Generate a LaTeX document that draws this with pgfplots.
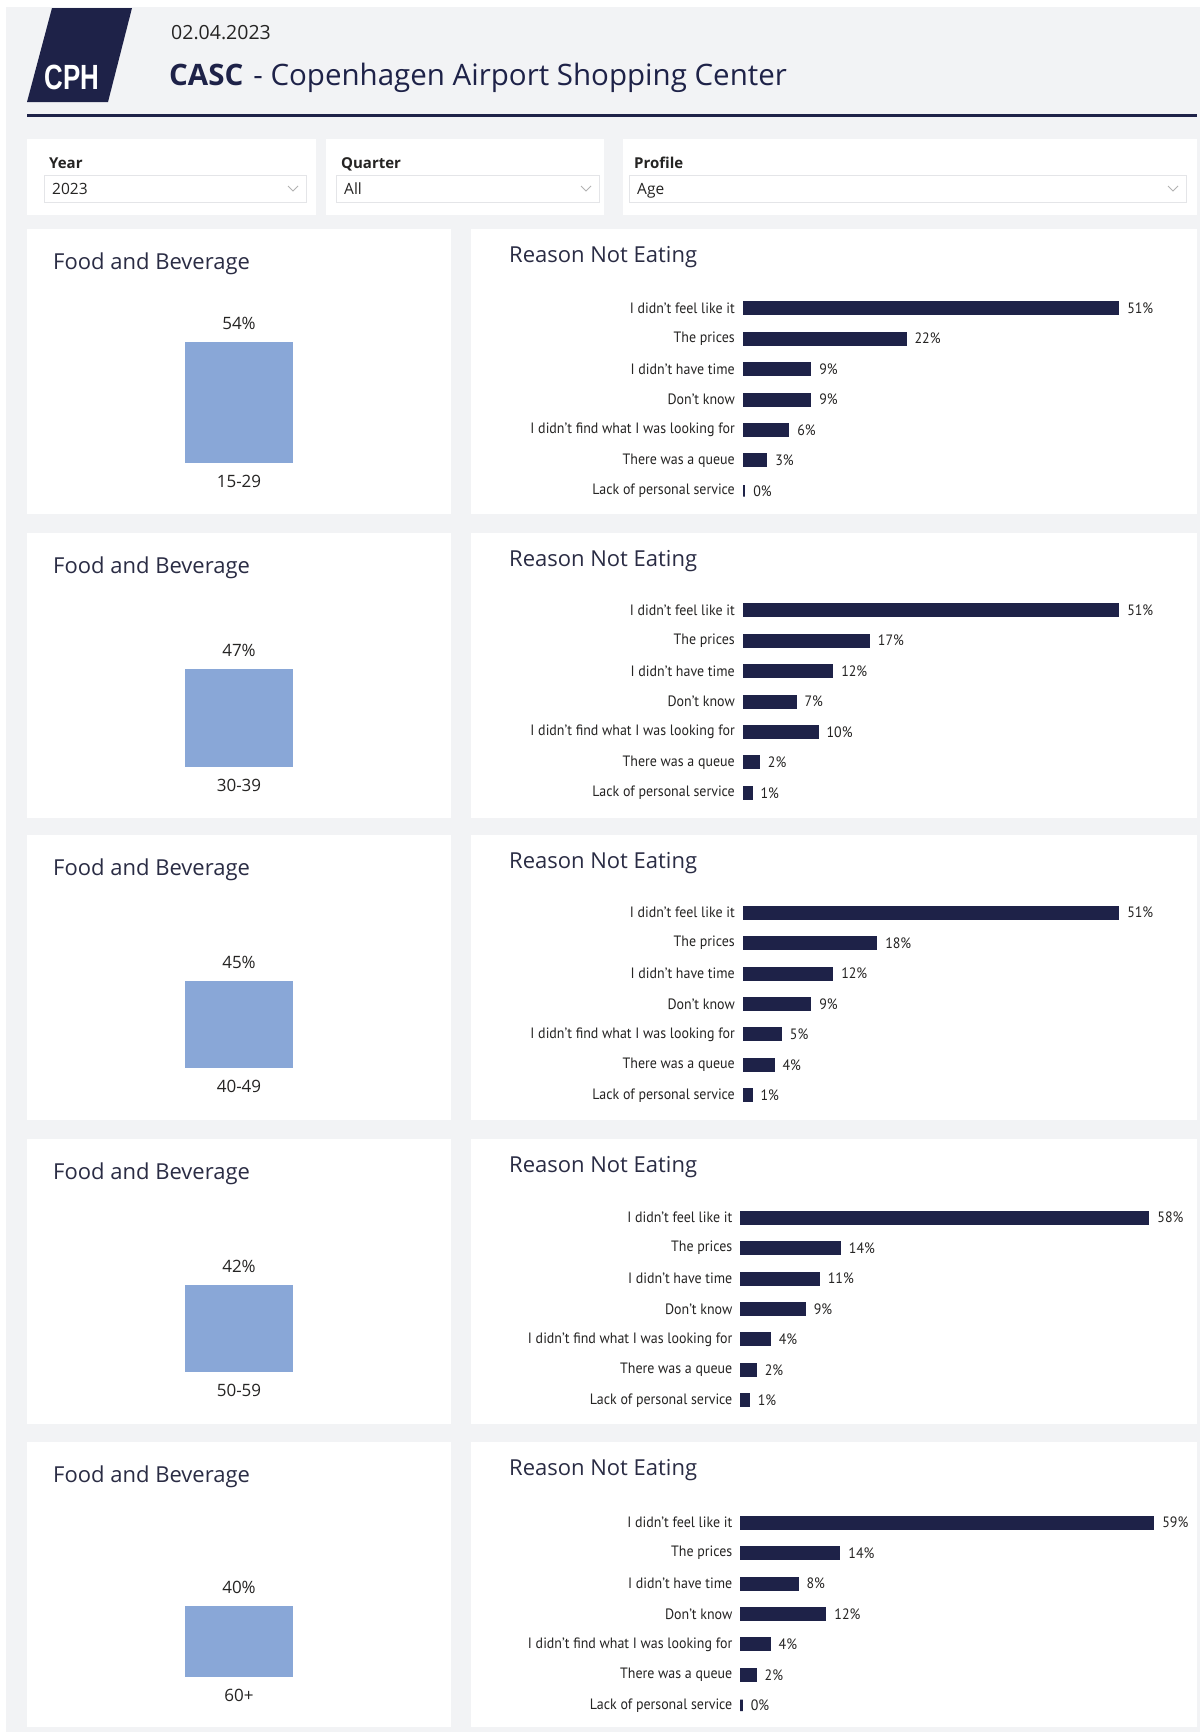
\documentclass[border=0pt]{standalone}
\usepackage{fontspec}
\setmainfont{Open Sans}
\newfontfamily\labfont[FakeStretch=0.93]{PT Sans}
\newfontfamily\logofont{Liberation Sans}
\usepackage{pgfplots}
\usepackage{pgfplotstable}
\pgfplotsset{compat=1.18}
\pgfkeys{/pgf/number format/assume math mode=true}

\definecolor{navy}{HTML}{1E2248}
\definecolor{bgray}{HTML}{F2F3F5}
\definecolor{barblue}{HTML}{89A7D7}
\definecolor{txt}{HTML}{252423}
\definecolor{ttl}{HTML}{2A2C44}
\definecolor{ddborder}{HTML}{E4E5E8}

% Reason Not Eating, one table per age group (idx = category order)
\pgfplotstableread{
idx val
0 51
1 22
2 9
3 9
4 6
5 3
6 0
}\rA
\pgfplotstableread{
idx val
0 51
1 17
2 12
3 7
4 10
5 2
6 1
}\rB
\pgfplotstableread{
idx val
0 51
1 18
2 12
3 9
4 5
5 4
6 1
}\rC
\pgfplotstableread{
idx val
0 58
1 14
2 11
3 9
4 4
5 2
6 1
}\rD
\pgfplotstableread{
idx val
0 59
1 14
2 8
3 12
4 4
5 2
6 0
}\rE

\pgfplotsset{
  fb/.style={scale only axis, width=200pt, height=144pt, anchor=south west,
    xmin=-1, xmax=1, ymin=0, ybar, bar width=108pt, clip=false,
    axis line style={draw=none}, major tick length=0pt, ytick=\empty, xtick={0},
    xticklabel style={anchor=center, yshift=-18pt, inner sep=0pt, text=txt,
      font=\fontsize{17}{20}\selectfont},
    point meta=y,
    nodes near coords={\pgfmathprintnumber{\pgfplotspointmeta}\%},
    nodes near coords style={anchor=south, inner sep=0pt, yshift=12pt, text=txt,
      font=\fontsize{17}{20}\selectfont}},
  fbbar/.style={fill=barblue, draw=none},
  rn/.style={scale only axis, width=420pt, height=213pt, anchor=north west,
    xbar, xmin=0, ymin=-0.5, ymax=6.5, y dir=reverse, bar width=11.5pt, clip=false,
    axis line style={draw=none}, major tick length=0pt, xtick=\empty, ytick={0,...,6},
    yticklabels={I didn’t feel like it, The prices, I didn’t have time, Don’t know,
      I didn’t find what I was looking for, There was a queue, Lack of personal service},
    yticklabel style={anchor=east, inner sep=0pt, xshift=-9pt, text=txt,
      font=\labfont\fontsize{15}{17}\selectfont},
    point meta=x,
    nodes near coords={\pgfmathprintnumber{\pgfplotspointmeta}\%},
    nodes near coords style={anchor=west, inner sep=0pt, xshift=8pt, text=txt,
      font=\labfont\fontsize{15}{17}\selectfont}},
  rnbar/.style={fill=navy, draw=navy, line width=2.5pt},
}

\begin{document}
\begin{tikzpicture}
\begin{scope}[x=1pt,y=-1pt]
\fill[white] (0,0) rectangle (1200,1732);
\fill[bgray] (6,7) rectangle (1200,1732);
% logo
\fill[navy] (52,8) -- (132,8) -- (108,102) -- (27,102) -- cycle;
\node[text=white, font=\logofont\bfseries\fontsize{35}{35}\selectfont, xscale=0.74, inner sep=0pt] at (72,77) {CPH};
% header
\node[anchor=base west, inner sep=0pt, text=txt, font=\fontsize{19.5}{22}\selectfont] at (171,39) {02.04.2023};
\node[anchor=base west, inner sep=0pt, text=navy, font=\fontsize{29.5}{32}\selectfont] at (169,85) {\textbf{CASC}\hspace{10pt}- Copenhagen Airport Shopping Center};
\fill[navy] (27,114) rectangle (1197,117);
% filters
\fill[white] (27,139) rectangle (316,215);
\fill[white] (326,139) rectangle (604,215);
\fill[white] (623,139) rectangle (1197,215);
\foreach \xa/\xb/\lab/\val in {49/306/Year/2023, 341/599/Quarter/All, 634/1186/Profile/Age}{
  \node[anchor=base west, inner sep=0pt, text=txt, font=\bfseries\fontsize{15}{18}\selectfont] at (\xa,168) {\lab};
  \draw[ddborder, fill=white] ({\xa-5},175) rectangle (\xb,202);
  \node[anchor=base west, inner sep=0pt, text=txt, font=\fontsize{15.5}{18}\selectfont] at ({\xa+3},194) {\val};
  \draw[gray!60, line width=0.8pt] ({\xb-18},186) -- ({\xb-13},191) -- ({\xb-8},186);
}
% panels
\foreach \t in {229,533,835,1139,1442}{
  \fill[white] (27,\t) rectangle (451,{\t+285});
  \fill[white] (471,\t) rectangle (1197,{\t+285});
  \node[anchor=west, inner sep=0pt, text=ttl, font=\fontsize{22}{26}\selectfont] at (53,{\t+35}) {Food and Beverage};
  \node[anchor=west, inner sep=0pt, text=ttl, font=\fontsize{22}{26}\selectfont] at (509,{\t+28}) {Reason Not Eating};
}
\end{scope}

% Food and Beverage bars
\begin{axis}[fb, at={(139pt,-463pt)}, ymax=64.26, xticklabels={15-29}]
\addplot[fbbar] coordinates {(0,54)};
\end{axis}
\begin{axis}[fb, at={(139pt,-767pt)}, ymax=69.06, xticklabels={30-39}]
\addplot[fbbar] coordinates {(0,47)};
\end{axis}
\begin{axis}[fb, at={(139pt,-1068pt)}, ymax=74.48, xticklabels={40-49}]
\addplot[fbbar] coordinates {(0,45)};
\end{axis}
\begin{axis}[fb, at={(139pt,-1372pt)}, ymax=69.52, xticklabels={50-59}]
\addplot[fbbar] coordinates {(0,42)};
\end{axis}
\begin{axis}[fb, at={(139pt,-1677pt)}, ymax=81.13, xticklabels={60+}]
\addplot[fbbar] coordinates {(0,40)};
\end{axis}

% Reason Not Eating bars
\begin{axis}[rn, at={(744pt,-293pt)}, xmax=57.27]
\addplot[rnbar] table[x=val,y=idx]{\rA};
\end{axis}
\begin{axis}[rn, at={(744pt,-595pt)}, xmax=57.27]
\addplot[rnbar] table[x=val,y=idx]{\rB};
\end{axis}
\begin{axis}[rn, at={(744pt,-897.5pt)}, xmax=57.27]
\addplot[rnbar] table[x=val,y=idx]{\rC};
\end{axis}
\begin{axis}[rn, at={(741.5pt,-1202.5pt)}, xmax=59.9]
\addplot[rnbar] table[x=val,y=idx]{\rD};
\end{axis}
\begin{axis}[rn, at={(741.5pt,-1507.5pt)}, xmax=60.2]
\addplot[rnbar] table[x=val,y=idx]{\rE};
\end{axis}

\pgfresetboundingbox
\path (0pt,0pt) rectangle (1200pt,-1732pt);
\end{tikzpicture}
\end{document}
